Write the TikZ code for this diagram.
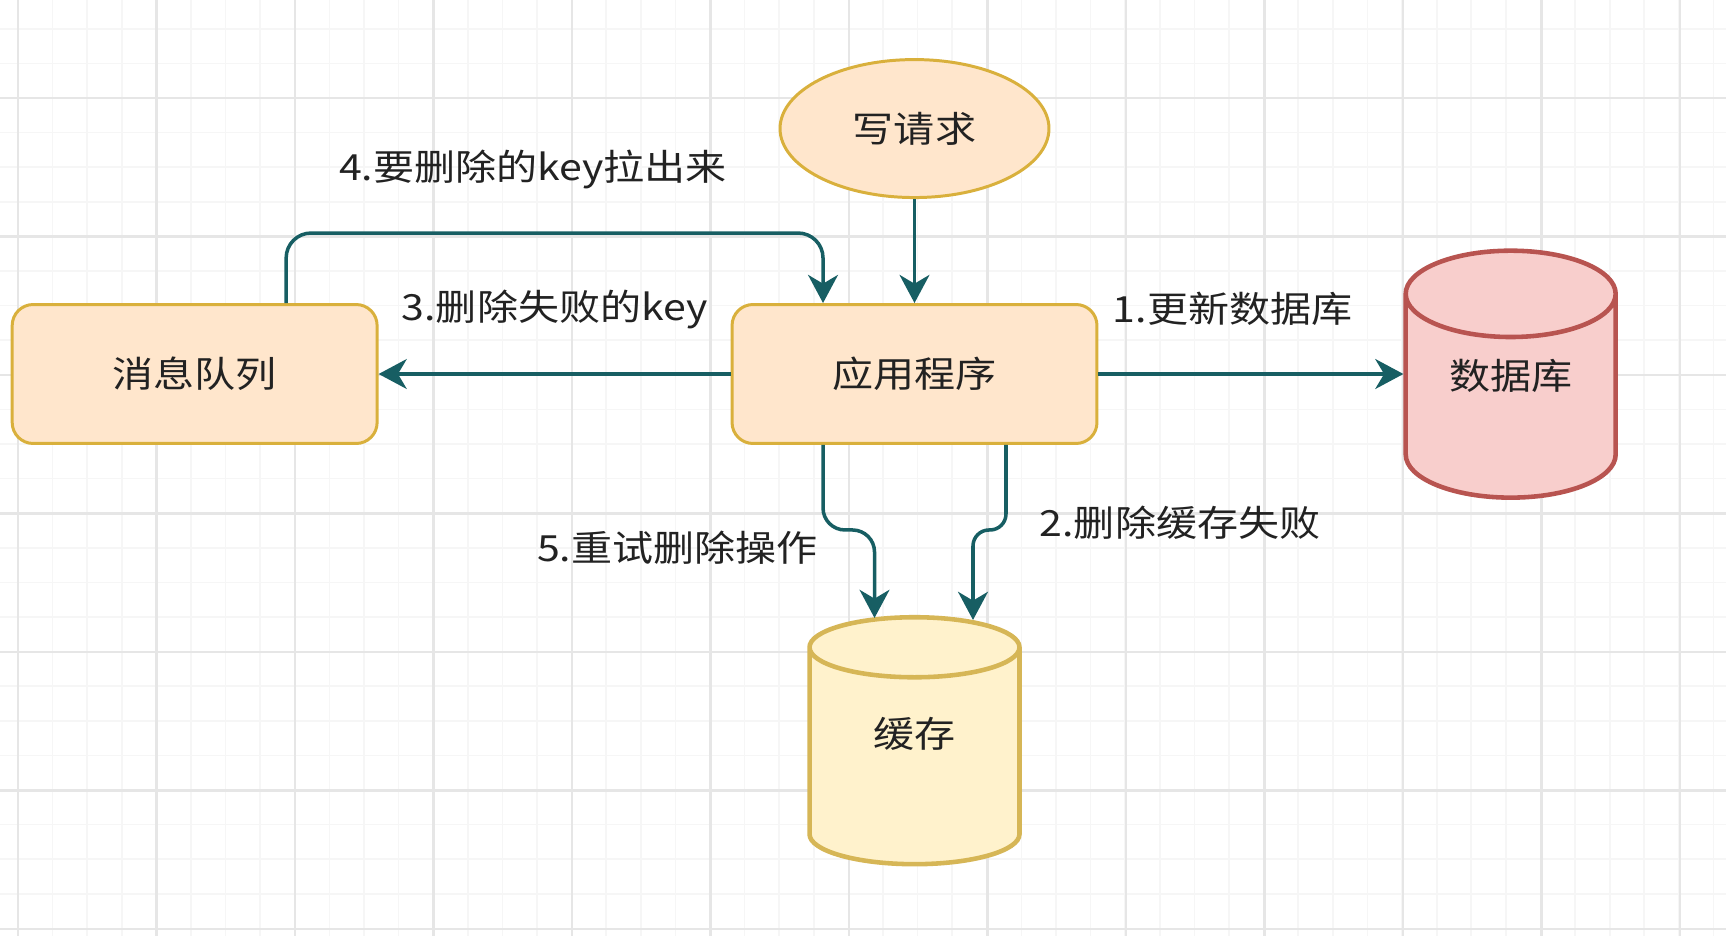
\documentclass[tikz,border=0pt]{standalone}
\usepackage{fontspec}
\setmainfont[FakeStretch=1.14]{Noto Sans CJK SC}
\usetikzlibrary{arrows.meta, positioning, shapes.geometric, calc}

\definecolor{flow}{HTML}{175E63}
\definecolor{boxfill}{HTML}{FFE6CC}
\definecolor{boxline}{HTML}{D9B03C}
\definecolor{cachefill}{HTML}{FFF2CC}
\definecolor{cacheline}{HTML}{D6B656}
\definecolor{dbfill}{HTML}{F8CECC}
\definecolor{dbline}{HTML}{B85450}
\definecolor{ink}{HTML}{222222}
\definecolor{gridmajor}{HTML}{E6E6E6}
\definecolor{gridminor}{HTML}{F6F6F6}

\begin{document}
\begin{tikzpicture}[
    x=0.02cm, y=-0.02cm,
    font=\fontsize{20.5}{24}\selectfont,
    text=ink,
    box/.style={draw=boxline, fill=boxfill, line width=1.7pt, rounded corners=0.42cm, minimum width=7.3cm, minimum height=2.78cm},
    store/.style={cylinder, shape border rotate=90, aspect=0.64, line width=2.6pt, minimum width=4.2cm, minimum height=4.94cm, text depth=1.17cm},
    arrow/.style={-{Stealth[length=16pt, width=17pt, inset=5pt]}, draw=flow, line width=2pt},
    lbl/.style={inner sep=0pt}
]
    \fill[white] (0,0) rectangle (1726,936);
    \useasboundingbox (0,0) rectangle (1726,936);
    % background grid
    \foreach \gx in {-16.6,18,...,1726} \draw[gridminor, line width=1pt] (\gx,0) -- (\gx,936);
    \foreach \gy in {28.8,63.4,...,936} \draw[gridminor, line width=1pt] (0,\gy) -- (1726,\gy);
    \foreach \gx in {18,156.5,...,1726} \draw[gridmajor, line width=1.2pt] (\gx,0) -- (\gx,936);
    \foreach \gy in {98,236.5,...,936} \draw[gridmajor, line width=1.2pt] (0,\gy) -- (1726,\gy);

    \node[box] (app) at (914.5,374) {应用程序};
    \node[box, left=7.04cm of app] (queue) {消息队列};
    \node[ellipse, draw=boxline, fill=boxfill, line width=1.7pt, minimum width=5.38cm, minimum height=2.76cm, above=2.08cm of app] (req) {写请求};
    \node[store, draw=dbline, fill=dbfill, right=6.1cm of app, yshift=-0.6cm] (db) {数据库};
    \node[store, draw=cacheline, fill=cachefill, below=3.4cm of app] (cache) {缓存};

    \draw[arrow] (req) -- (app);
    \draw[arrow] (app.east) -- node[lbl, pos=0.44, yshift=1.3cm] {1.更新数据库} (app.east -| db.west);
    \draw[arrow] (app) -- node[lbl, yshift=1.3cm] {3.删除失败的key} (queue);
    \draw[arrow, rounded corners=0.5cm] ([xshift=1.83cm]queue.north) |- node[lbl, pos=0.73, yshift=1.28cm] {4.要删除的key拉出来} ([xshift=-1.83cm, yshift=1.4cm]app.north) -- ([xshift=-1.83cm]app.north);
    \draw[arrow, rounded corners=0.44cm] ([xshift=-1.83cm]app.south) -- ++(0,85) -| node[lbl, pos=0.6, left=1.1cm] {5.重试删除操作} ([xshift=-0.8cm, yshift=-0.06cm]cache.north);
    \draw[arrow, rounded corners=0.32cm] ([xshift=1.83cm]app.south) -- node[lbl, pos=0.92, right=0.64cm] {2.删除缓存失败} ++(0,85) -| ([xshift=1.17cm, yshift=-0.1cm]cache.north);
\end{tikzpicture}
\end{document}
